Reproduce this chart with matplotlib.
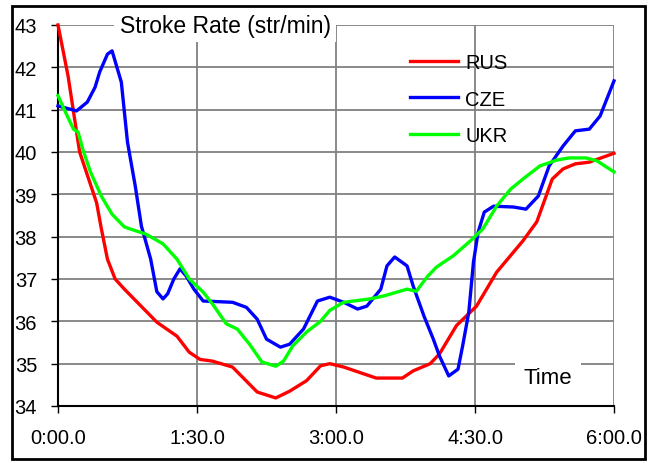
import matplotlib.pyplot as plt
from matplotlib.patches import Rectangle

plt.rcParams['font.family'] = ['Liberation Sans', 'DejaVu Sans']

# time in seconds, stroke rate in str/min
rus_t = [0, 6.5, 14, 25, 28, 32, 37, 43, 64, 77, 85, 92, 100, 113, 129, 141, 150, 161, 170, 176,
         185, 206, 223, 230, 241, 247, 258, 271, 284, 301, 310, 320, 327, 335, 344, 360]
rus_v = [43.0, 41.8, 40.0, 38.8, 38.2, 37.47, 37.0, 36.76, 35.98, 35.65, 35.27, 35.1, 35.06, 34.92,
         34.33, 34.19, 34.35, 34.6, 34.95, 35.0, 34.92, 34.66, 34.66, 34.83, 35.0, 35.23, 35.9, 36.36,
         37.16, 37.9, 38.35, 39.36, 39.6, 39.72, 39.76, 39.97]

cze_t = [0, 12, 19, 24, 27, 32, 35, 41, 45, 50, 54, 60, 64, 68, 71, 75, 79, 83, 88, 94, 113, 122,
         129, 135, 144, 150, 159, 168, 176, 185, 194, 200, 209, 213, 218, 226, 230, 237, 243, 247,
         253, 259, 262, 266, 269, 272, 276, 282, 295, 303, 311, 318, 327, 335, 344, 351, 360]
cze_v = [41.09, 40.97, 41.18, 41.53, 41.89, 42.31, 42.39, 41.65, 40.23, 39.2, 38.25, 37.47, 36.7,
         36.53, 36.65, 37.0, 37.24, 37.07, 36.76, 36.48, 36.45, 36.33, 36.05, 35.58, 35.39, 35.46,
         35.82, 36.48, 36.57, 36.45, 36.29, 36.36, 36.76, 37.31, 37.52, 37.31, 36.83, 36.12, 35.58,
         35.18, 34.71, 34.87, 35.42, 36.22, 37.4, 38.1, 38.58, 38.72, 38.7, 38.65, 38.96, 39.67,
         40.14, 40.5, 40.54, 40.85, 41.68]

ukr_t = [0, 6, 10, 13, 16, 21, 28, 35, 43, 51, 57, 68, 77, 85, 94, 100, 109, 116, 124, 132, 141,
         146, 152, 161, 170, 176, 185, 202, 211, 226, 232, 239, 245, 256, 267, 275, 284, 293, 301,
         312, 323, 331, 342, 349, 360]
ukr_v = [41.33, 40.85, 40.54, 40.47, 40.07, 39.53, 38.96, 38.53, 38.23, 38.13, 38.06, 37.83, 37.47,
         37.0, 36.69, 36.41, 35.94, 35.82, 35.46, 35.04, 34.94, 35.06, 35.42, 35.75, 36.0, 36.26,
         36.45, 36.53, 36.6, 36.76, 36.71, 37.05, 37.28, 37.55, 37.9, 38.18, 38.72, 39.12, 39.36,
         39.67, 39.81, 39.86, 39.86, 39.79, 39.53]

x_ticks = [0, 90, 180, 270, 360]
x_labels = ['0:00.0', '1:30.0', '3:00.0', '4:30.0', '6:00.0']
y_ticks = list(range(34, 44))

fig = plt.figure(figsize=(6.57, 4.64), dpi=100)
ax = fig.add_axes([58 / 657, 1 - 407 / 464, 556 / 657, 381 / 464])

ax.plot(rus_t, rus_v, color='#ff0000', lw=2.4, label='RUS', clip_on=False, zorder=3)
ax.plot(cze_t, cze_v, color='#0000ff', lw=2.4, label='CZE', clip_on=False, zorder=3)
ax.plot(ukr_t, ukr_v, color='#00ff00', lw=2.4, label='UKR', clip_on=False, zorder=3)

ax.set_xlim(0, 360)
ax.set_ylim(34, 43)
ax.set_xticks(x_ticks)
ax.set_xticklabels(x_labels)
ax.set_yticks(y_ticks)
ax.grid(True, color='#808080', lw=1.3)
ax.set_axisbelow(True)
for s in ['top', 'right']:
    ax.spines[s].set_visible(False)
for s in ['left', 'bottom']:
    ax.spines[s].set_linewidth(1.5)
ax.tick_params(direction='out', length=5, width=1, labelsize=14.5, colors='black')
ax.tick_params(axis='x', pad=11)
ax.tick_params(axis='y', pad=10)

# title box sits on the top gridline
fig.text(225 / 657, 1 - 26 / 464, 'Stroke Rate (str/min)', fontsize=16.5, ha='center', va='center',
         bbox=dict(facecolor='white', edgecolor='none', pad=4))
fig.text(548 / 657, 1 - 379 / 464, 'Time', fontsize=16, ha='center', va='center',
         bbox=dict(facecolor='white', edgecolor='none', pad=6))

ax.legend(loc='center left', bbox_to_anchor=(352 / 556, (407 - 100) / 381), frameon=False,
          fontsize=14.5, handlelength=2.4, handletextpad=0.35, labelspacing=0.85,
          borderpad=0, borderaxespad=0)

fig.patches.append(Rectangle((12 / 657, 1 - 460 / 464), 633 / 657, 453 / 464,
                             transform=fig.transFigure, fill=False, edgecolor='black', lw=2))

fig.savefig('out.png', dpi=100)
